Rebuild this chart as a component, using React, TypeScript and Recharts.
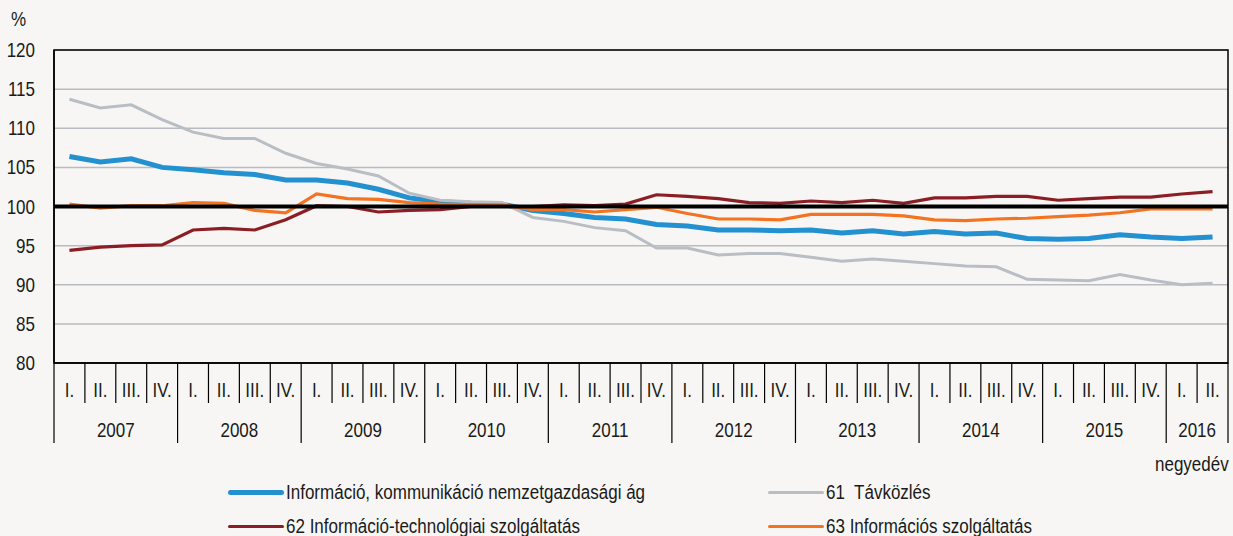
import React from 'react';
import { LineChart, Line, XAxis, YAxis, CartesianGrid, ReferenceLine, ReferenceArea } from 'recharts';

const quarters = ['I.', 'II.', 'III.', 'IV.'];
const years = [2007, 2008, 2009, 2010, 2011, 2012, 2013, 2014, 2015, 2016];
const yTicks = [80, 85, 90, 95, 100, 105, 110, 115, 120];

// Információ, kommunikáció nemzetgazdasági ág
const infoKomm = [
  106.4, 105.7, 106.1, 105.0, 104.7, 104.3, 104.1, 103.4, 103.4, 103.0, 102.2, 101.1,
  100.6, 100.4, 100.3, 99.5, 99.1, 98.6, 98.4, 97.7, 97.5, 97.0, 97.0, 96.9,
  97.0, 96.6, 96.9, 96.5, 96.8, 96.5, 96.6, 95.9, 95.8, 95.9, 96.4, 96.1, 95.9, 96.1,
];
// 61 Távközlés
const tavkozles = [
  113.7, 112.6, 113.0, 111.1, 109.5, 108.7, 108.7, 106.8, 105.5, 104.8, 103.9, 101.7,
  100.8, 100.6, 100.5, 98.6, 98.1, 97.3, 96.9, 94.7, 94.7, 93.8, 94.0, 94.0,
  93.5, 93.0, 93.3, 93.0, 92.7, 92.4, 92.3, 90.7, 90.6, 90.5, 91.3, 90.6, 90.0, 90.2,
];
// 62 Információ-technológiai szolgáltatás
const infoTech = [
  94.4, 94.8, 95.0, 95.1, 97.0, 97.2, 97.0, 98.3, 100.1, 100.0, 99.3, 99.5,
  99.6, 100.0, 100.0, 100.0, 100.2, 100.1, 100.3, 101.5, 101.3, 101.0, 100.5, 100.4,
  100.7, 100.5, 100.8, 100.4, 101.1, 101.1, 101.3, 101.3, 100.8, 101.0, 101.2, 101.2, 101.6, 101.9,
];
// 63 Információs szolgáltatás
const infoSzolg = [
  100.3, 99.8, 100.1, 100.1, 100.5, 100.4, 99.5, 99.2, 101.6, 101.0, 100.9, 100.5,
  100.3, 100.2, 100.2, 99.6, 99.6, 99.3, 99.6, 99.9, 99.1, 98.4, 98.4, 98.3,
  99.0, 99.0, 99.0, 98.8, 98.3, 98.2, 98.4, 98.5, 98.7, 98.9, 99.2, 99.7, 99.7, 99.7,
];

const series = [
  { key: 'infoKomm', name: 'Információ, kommunikáció nemzetgazdasági ág', color: '#2390d0', width: 5 },
  { key: 'tavkozles', name: '61  Távközlés', color: '#b9bec4', width: 3 },
  { key: 'infoTech', name: '62 Információ-technológiai szolgáltatás', color: '#8b1e24', width: 3.2 },
  { key: 'infoSzolg', name: '63 Információs szolgáltatás', color: '#f47320', width: 3.2 },
];

const data = infoKomm.map((v, i) => ({
  id: `${years[Math.floor(i / 4)]}-${quarters[i % 4]}`,
  q: quarters[i % 4],
  year: years[Math.floor(i / 4)],
  infoKomm: v,
  tavkozles: tavkozles[i],
  infoTech: infoTech[i],
  infoSzolg: infoSzolg[i],
}));

const W = 1233;
const H = 536;
const FONT = '"Liberation Sans", Arial, sans-serif';
const SX = 0.85; // narrow look
const TXT = '#1a1a1a';
const margin = { top: 50, right: 5, left: 0, bottom: 0 };
const yAxisWidth = 54;
const xAxisHeight = 173;
const band = (W - margin.left - margin.right - yAxisWidth) / data.length;

const NarrowText = ({ x, y, anchor, children }: any) => (
  <text
    transform={`translate(${x},${y}) scale(${SX},1)`}
    textAnchor={anchor}
    fontFamily={FONT}
    fontSize={20}
    fill={TXT}
    style={{ whiteSpace: 'pre' }}
  >
    {children}
  </text>
);

const QuarterTick = (props: any) => {
  const { x, y, payload } = props;
  const idx = data.findIndex(r => r.id === payload.value);
  if (idx < 0) return null;
  const d = data[idx];
  const left = x - band / 2;
  const isFirstQ = d.q === 'I.';
  const isLast = idx === data.length - 1;
  const yearCount = data.filter(r => r.year === d.year).length;
  return (
    <g>
      <line x1={left} y1={y} x2={left} y2={isFirstQ ? y + 80 : y + 40} stroke="#000" strokeWidth={1.2} />
      {isLast && <line x1={left + band} y1={y} x2={left + band} y2={y + 80} stroke="#000" strokeWidth={1.2} />}
      <NarrowText x={x} y={y + 34} anchor="middle">{d.q}</NarrowText>
      {isFirstQ && (
        <NarrowText x={left + (yearCount * band) / 2} y={y + 74} anchor="middle">{d.year}</NarrowText>
      )}
    </g>
  );
};

const ValueTick = (props: any) => {
  const { x, y, payload } = props;
  return <NarrowText x={x} y={y + 7} anchor="end">{payload.value}</NarrowText>;
};

const App: React.FC = () => {
  return (
    <div style={{ position: 'absolute', left: 0, top: 0, width: W, height: H, background: '#f7f6f4', fontFamily: FONT, color: TXT, overflow: 'hidden' }}>
      <LineChart width={W} height={H} data={data} margin={margin}>
        <CartesianGrid vertical={false} stroke="#b8bcc0" strokeWidth={1.5} />
        <XAxis
          dataKey="id"
          scale="band"
          interval={0}
          height={xAxisHeight}
          axisLine={{ stroke: '#000', strokeWidth: 1.5 }}
          tickLine={false}
          tickSize={0}
          tickMargin={0}
          tick={<QuarterTick />}
        />
        <YAxis
          domain={[80, 120]}
          ticks={yTicks}
          width={yAxisWidth}
          interval={0}
          axisLine={{ stroke: '#000', strokeWidth: 1.5 }}
          tickLine={false}
          tickMargin={13}
          tick={<ValueTick />}
        />
        <ReferenceArea y1={80} y2={120} fill="none" stroke="#000" strokeWidth={1.5} />
        {series.map(s => (
          <Line
            key={s.key}
            dataKey={s.key}
            name={s.name}
            stroke={s.color}
            strokeWidth={s.width}
            dot={false}
            activeDot={false}
            isAnimationActive={false}
          />
        ))}
        <ReferenceLine y={100} stroke="#000" strokeWidth={4} />
      </LineChart>
      <div style={{ position: 'absolute', left: 11, top: 8, fontSize: 20, transform: `scaleX(${SX})`, transformOrigin: 'left' }}>%</div>
      <div style={{ position: 'absolute', left: 1155, top: 453, fontSize: 20, whiteSpace: 'nowrap', transform: `scaleX(${SX})`, transformOrigin: 'left' }}>negyedév</div>
      {series.map((s, i) => {
        const col = i % 2;
        const row = Math.floor(i / 2);
        const left = col === 0 ? 228 : 768;
        const top = row === 0 ? 492 : 526;
        return (
          <div key={s.key} style={{ position: 'absolute', left, top: top - 12, height: 24, display: 'flex', alignItems: 'center', whiteSpace: 'pre', fontSize: 20 }}>
            <span style={{ display: 'inline-block', width: 56, height: s.width === 5 ? 5 : 3, background: s.color, borderRadius: 3, marginRight: 2 }} />
            <span style={{ display: 'inline-block', transform: `scaleX(${SX})`, transformOrigin: 'left' }}>{s.name}</span>
          </div>
        );
      })}
    </div>
  );
};

export default App;
